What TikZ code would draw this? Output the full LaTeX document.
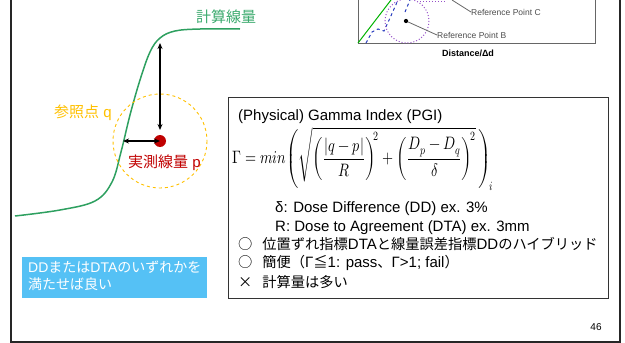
\documentclass[tikz,border=0pt]{standalone}
\usepackage{fontspec}
\usepackage{unicode-math}
\setmainfont{Liberation Sans}
\setmathfont{Latin Modern Math}
\newfontfamily\jp{Noto Sans CJK JP}
\newfontfamily\jpb[Scale=0.95]{Noto Sans CJK JP}
\usetikzlibrary{arrows.meta}
\definecolor{curvegreen}{RGB}{46,160,96}
\definecolor{labgreen}{RGB}{60,170,110}
\definecolor{qorange}{RGB}{255,192,0}
\definecolor{pred}{RGB}{192,0,0}
\definecolor{boxblue}{RGB}{85,193,245}
\definecolor{insetpurple}{RGB}{150,80,200}
\definecolor{insetblue}{RGB}{40,60,190}
\tikzset{
  txt/.style={inner sep=0pt, anchor=west, font=\fontsize{15}{18}\selectfont},
  dbl/.style={{Stealth[length=6pt,width=5pt]}-{Stealth[length=6pt,width=5pt]}, line width=1.2pt},
  frame/.style={line width=1.6pt, draw=black!85},
  inset/.style={inner sep=0pt, font=\fontsize{8.5}{10}\selectfont, text=black!70},
}
\begin{document}
\begin{tikzpicture}[x=1pt,y=-1pt]
\useasboundingbox (0,0) rectangle (625,343);
% slide frame
\draw[frame] (11,0) -- (11,342) -- (620,342) -- (620,0);
% inset (top right)
\draw[black!60, line width=0.6pt] (358,0) -- (358,43) -- (595,43) -- (595,0);
\draw[green!70!black, line width=1pt] (358,43) -- (391,0);
\draw[insetblue, dashed, line width=1pt] (366,43) -- (372,32) -- (378,29) -- (384,31) -- (390,18) -- (398,0);
\draw[insetblue, dashed, line width=1pt] (405,12) -- (410,0);
\draw[insetpurple, dotted, line width=1pt] (407,21) circle[radius=22];
\draw[insetpurple, dotted, line width=1pt] (420,1) -- (445,1);
\node[circle, fill=black, inner sep=1.5pt] (refdot) at (406,21) {};
\node[inset, anchor=west] (refB) at (437,35) {Reference Point B};
\node[inset, anchor=west] (refC) at (471,12) {Reference Point C};
\coordinate (cTop) at (452,0);
\draw[black!60, line width=0.8pt] (refdot) -- (refB.west);
\draw[black!60, line width=0.8pt] (cTop) -- (refC.west);
\node[inner sep=0pt, font=\fontsize{9}{10}\selectfont\bfseries] (dist) at (468,53) {Distance/Δd};
% dose curve
\draw[curvegreen, line width=1.5pt] plot[smooth, tension=0.6] coordinates {(15,216) (60,210) (95,201) (112,182) (121,152) (130,115) (140,80) (150,52) (160,38) (175,31) (200,29) (240,29)};
\node[txt, text=labgreen] (calc) at (196,17) {\jp 計算線量};
% reference circle and point
\draw[qorange, dashed, line width=0.9pt] (160,141) circle[radius=47];
\node[circle, fill=pred, inner sep=0pt, minimum size=12pt] (p) at (160,141) {};
\coordinate (ctop) at (160,43);
\coordinate (cleft) at (123,141);
\coordinate (pv) at (160,130);
\draw[dbl] (ctop) -- (pv);
\draw[dbl] (cleft) -- (p.center);
\node[txt, text=qorange] (q) at (54,113) {{\jp 参照点} q};
\node[txt, text=pred] (plab) at (128,163) {{\jp 実測線量} p};
% blue note
\node[fill=boxblue, minimum width=185pt, minimum height=41pt, anchor=north west, inner sep=0pt] (note) at (22,257) {};
\node[txt, anchor=north west, text=white, font=\fontsize{14}{17}\selectfont, align=left] (notetxt) at (28,261) {DD{\jp または}DTA{\jp のいずれかを}\\{\jp 満たせば良い}};
% formula box
\draw[line width=1pt, black!80] (228,97) rectangle (608,298);
\node[txt] (title) at (238,117) {(Physical) Gamma Index (PGI)};
\node[inner sep=0pt, anchor=west, font=\fontsize{15}{18}\selectfont] (formula) at (232,159)
  {\scalebox{0.95}[1.2]{$\displaystyle \Gamma = min\!\left(\sqrt{\left(\frac{|q-p|}{R}\right)^{\!2} + \left(\frac{D_p-D_q}{\delta}\right)^{\!2}}\,\right)_{\!i}$}};
\node[txt] (delta) at (275,209) {δ: Dose Difference (DD) ex. 3\%};
\node[txt] (rdef) at (275,228) {R: Dose to Agreement (DTA) ex. 3mm};
\node[txt] (b1) at (238,244) {{\jpb ○\hspace{10pt}位置ずれ指標}DTA{\jpb と線量誤差指標}DD{\jpb のハイブリッド}};
\node[txt] (b2) at (238,263) {{\jpb ○\hspace{10pt}簡便（}Γ{\jpb ≦}1: pass{\jpb 、}Γ>1; fail{\jpb ）}};
\node[txt] (b3) at (238,282) {{\jpb ×\hspace{10pt}計算量は多い}};
\node[inner sep=0pt, font=\fontsize{10}{12}\selectfont] (pg) at (596,327) {46};
\end{tikzpicture}
\end{document}
